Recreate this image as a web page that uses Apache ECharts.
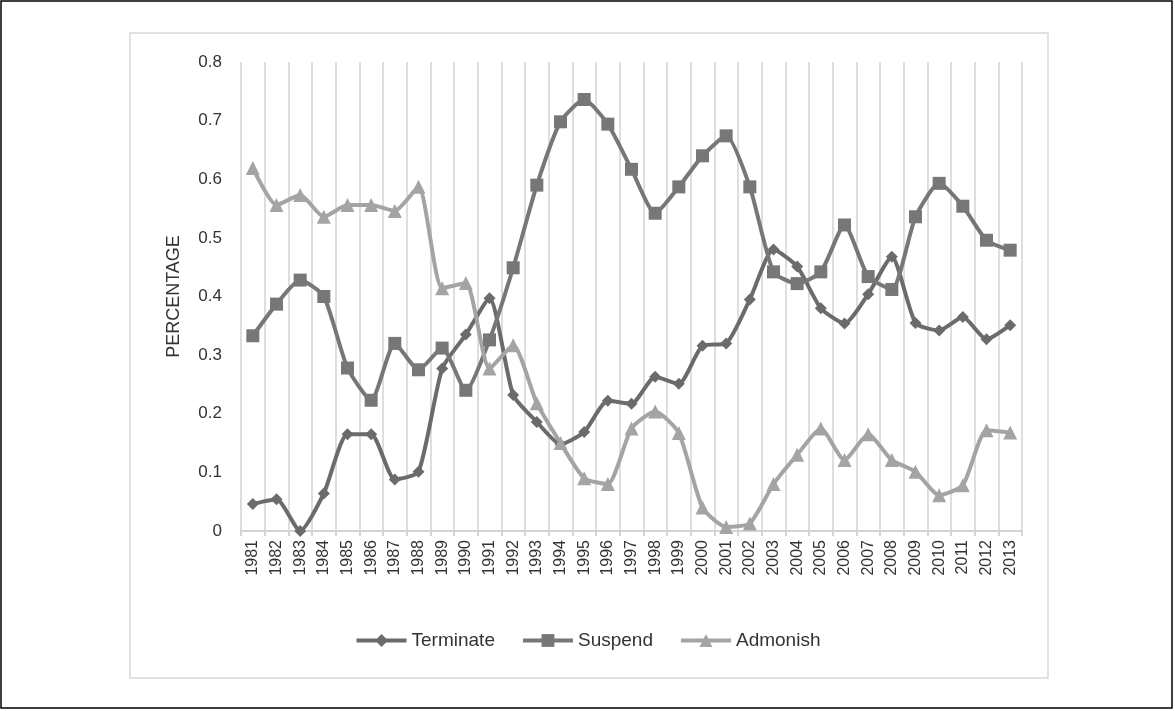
<!DOCTYPE html>
<html>
<head>
<meta charset="utf-8">
<script src="https://cdn.jsdelivr.net/npm/echarts@6/dist/echarts.min.js"></script>
<style>
html,body{margin:0;padding:0;background:#fff;}
#chart{width:1175px;height:711px;}
</style>
</head>
<body>
<div id="chart"></div>
<script>
var years = ['1981','1982','1983','1984','1985','1986','1987','1988','1989','1990','1991','1992','1993','1994','1995','1996','1997','1998','1999','2000','2001','2002','2003','2004','2005','2006','2007','2008','2009','2010','2011','2012','2013'];
var terminate = [0.046,0.054,0.0,0.064,0.165,0.165,0.088,0.101,0.277,0.335,0.397,0.232,0.186,0.148,0.169,0.222,0.217,0.263,0.251,0.316,0.320,0.395,0.480,0.451,0.380,0.354,0.404,0.468,0.355,0.342,0.365,0.327,0.351];
var suspend = [0.333,0.387,0.428,0.400,0.278,0.223,0.320,0.275,0.312,0.240,0.326,0.449,0.590,0.698,0.736,0.694,0.617,0.542,0.587,0.640,0.674,0.587,0.442,0.422,0.442,0.522,0.434,0.412,0.536,0.593,0.554,0.496,0.479];
var admonish = [0.619,0.556,0.573,0.536,0.556,0.556,0.546,0.587,0.414,0.423,0.277,0.317,0.218,0.150,0.090,0.080,0.175,0.204,0.167,0.040,0.007,0.013,0.080,0.130,0.175,0.121,0.165,0.121,0.101,0.061,0.078,0.172,0.168];
var yTicks = [0,0.1,0.2,0.3,0.4,0.5,0.6,0.7,0.8];

var font = 'Liberation Sans';
var chart = echarts.init(document.getElementById('chart'), null, {renderer:'canvas'});
function mk(name, data, color, symbol, size){
  return {
    name: name, type: 'line', data: data, smooth: 0.2,
    symbol: symbol, symbolSize: size,
    lineStyle: {color: color, width: 4},
    itemStyle: {color: color},
    emphasis: {disabled: true}
  };
}
chart.setOption({
  animation: false,
  backgroundColor: '#fff',
  graphic: [
    {type:'rect', shape:{x:1,y:1,width:1171,height:707}, style:{fill:'none', stroke:'#000', lineWidth:1.5}, z:-10},
    {type:'rect', shape:{x:130,y:33,width:918,height:645}, style:{fill:'#fff', stroke:'#d8d8d8', lineWidth:1.5}, z:-9}
  ],
  grid: {left: 241, right: 153, top: 62, bottom: 180},
  legend: {
    bottom: 56, left: 'center',
    itemWidth: 50, itemHeight: 16, itemGap: 26,
    lineStyle: {width: 4},
    textStyle: {fontFamily: font, fontSize: 19, color: '#333'},
    data: ['Terminate','Suspend','Admonish']
  },
  xAxis: {
    type: 'category', data: years, boundaryGap: true,
    axisLine: {show: true, lineStyle: {color: '#d4d4d4', width: 2}},
    axisTick: {show: true, length: 5, lineStyle: {color: '#d4d4d4', width: 2}},
    axisLabel: {rotate: 90, margin: 9, fontFamily: font, fontSize: 16, color: '#333', interval: 0},
    splitLine: {show: true, lineStyle: {color: '#dedede', width: 2}}
  },
  yAxis: {
    type: 'value', min: 0, max: 0.8, interval: 0.1,
    name: 'PERCENTAGE', nameLocation: 'middle', nameGap: 58, nameRotate: 90,
    nameTextStyle: {fontFamily: font, fontSize: 18, color: '#333'},
    axisLine: {show: false}, axisTick: {show: false},
    axisLabel: {margin: 19, fontFamily: font, fontSize: 17, color: '#333',
      formatter: function(v){ return yTicks.indexOf(Math.round(v*10)/10) >= 0 ? String(Math.round(v*10)/10) : ''; }},
    splitLine: {show: false}
  },
  series: [
    mk('Terminate', terminate, '#6b6b6b', 'diamond', 12),
    mk('Suspend', suspend, '#777777', 'rect', 13),
    mk('Admonish', admonish, '#a4a4a4', 'triangle', 14)
  ]
});
</script>
</body>
</html>
